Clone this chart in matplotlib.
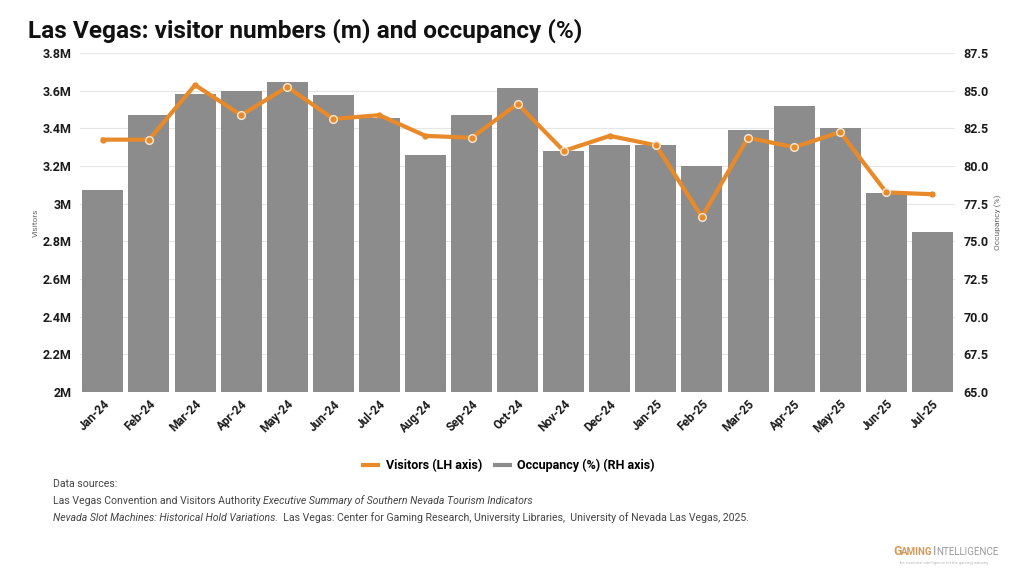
import numpy as np
import matplotlib.pyplot as plt
from matplotlib.lines import Line2D
from matplotlib.ticker import FuncFormatter, MultipleLocator

plt.rcParams.update({
    'font.family': ['Roboto', 'DejaVu Sans'],
    'figure.facecolor': 'white',
})

# Data
months = ['Jan-24', 'Feb-24', 'Mar-24', 'Apr-24', 'May-24', 'Jun-24', 'Jul-24',
          'Aug-24', 'Sep-24', 'Oct-24', 'Nov-24', 'Dec-24', 'Jan-25', 'Feb-25',
          'Mar-25', 'Apr-25', 'May-25', 'Jun-25', 'Jul-25']
visitors_m = [3.34, 3.34, 3.63, 3.47, 3.62, 3.45, 3.47, 3.36, 3.35, 3.53,
              3.28, 3.36, 3.31, 2.93, 3.35, 3.30, 3.38, 3.06, 3.05]
occupancy = [78.4, 83.4, 84.8, 85.0, 85.6, 84.7, 83.2, 80.7, 83.4, 85.2,
             81.0, 81.4, 81.4, 80.0, 82.4, 84.0, 82.5, 78.2, 75.6]
# points drawn with a white-ringed marker in the original
ringed = [1, 3, 4, 5, 8, 9, 10, 12, 13, 14, 15, 16, 17]

ORANGE = '#e8892a'
GREY = '#8c8c8c'
TXT = '#1a1a1a'

fig = plt.figure(figsize=(10.24, 5.76), dpi=100)
ax = fig.add_axes([0.078, 0.3194, 0.855, 0.5886])   # bars, right-hand scale
ax2 = ax.twinx()                                     # line, left-hand scale

x = np.arange(len(months))

# bars: occupancy (RH axis)
ax.bar(x, occupancy, width=0.89, color=GREY, zorder=2)
ax.set_ylim(65, 87.5)
ax.yaxis.set_major_locator(MultipleLocator(2.5))
ax.yaxis.set_major_formatter(FuncFormatter(lambda v, p: f'{v:.1f}'))
ax.yaxis.tick_right()
ax.yaxis.set_label_position('right')
ax.grid(axis='y', color='#e6e6e6', lw=0.8, zorder=0)
ax.set_axisbelow(True)
ax.set_xlim(-0.5, len(months) - 0.5)
ax.set_xticks(x)
ax.set_xticklabels(months, rotation=45, ha='right', rotation_mode='anchor',
                   fontsize=8.5, fontweight='bold', color=TXT)
ax.set_ylabel('Occupancy (%)', fontsize=6, color='#666666', labelpad=4)

# line: visitors (LH axis)
ax2.plot(x, visitors_m, color=ORANGE, lw=3, zorder=3,
         marker='o', ms=3.5, mec=ORANGE, mfc=ORANGE)
ax2.plot(x[ringed], np.array(visitors_m)[ringed], ls='none', marker='o',
         ms=5.5, mfc=ORANGE, mec='#f6e3cf', mew=1.1, zorder=4)
ax2.set_ylim(2.0, 3.8)
ax2.yaxis.set_major_locator(MultipleLocator(0.2))
ax2.yaxis.set_major_formatter(FuncFormatter(lambda v, p: f'{v:g}M'))
ax2.yaxis.tick_left()
ax2.yaxis.set_label_position('left')
ax2.set_ylabel('Visitors', fontsize=6, color='#666666', labelpad=3)

for a in (ax, ax2):
    for s in a.spines.values():
        s.set_visible(False)
    a.tick_params(length=0, pad=6)
    for lbl in a.get_yticklabels():
        lbl.set_fontsize(9)
        lbl.set_fontweight('bold')
        lbl.set_color(TXT)
ax.tick_params(axis='x', pad=4)

# title
fig.text(0.027, 0.947, 'Las Vegas: visitor numbers (m) and occupancy (%)',
         fontsize=17.6, fontweight='bold', color='#111111', va='center')

# legend
handles = [Line2D([], [], color=ORANGE, lw=3),
           Line2D([], [], color=GREY, lw=3)]
fig.legend(handles, ['Visitors (LH axis)', 'Occupancy (%) (RH axis)'],
           loc='center', bbox_to_anchor=(0.497, 0.192), ncol=2, frameon=False,
           prop={'weight': 'bold', 'size': 9}, handlelength=1.2,
           columnspacing=1.0, handletextpad=0.6)


def runs(x0, y, pieces, size=7.6, color='#444444'):
    # draw text pieces one after another on a single line
    r = fig.canvas.get_renderer()
    xpos = x0
    for txt, kw in pieces:
        t = fig.text(xpos, y, txt, fontsize=kw.get('size', size),
                     style=kw.get('style', 'normal'),
                     weight=kw.get('weight', 'normal'),
                     color=kw.get('color', color), va='baseline')
        bb = t.get_window_extent(renderer=r)
        xpos += bb.width / fig.bbox.width


runs(0.052, 0.155, [('Data sources:', {})])
runs(0.052, 0.125, [('Las Vegas Convention and Visitors Authority ', {}),
                    ('Executive Summary of Southern Nevada Tourism Indicators',
                     {'style': 'italic'})])
runs(0.052, 0.095, [('Nevada Slot Machines: Historical Hold Variations.',
                     {'style': 'italic'}),
                    ('  Las Vegas: Center for Gaming Research, University Libraries,  '
                     'University of Nevada Las Vegas, 2025.', {})])

# logo
runs(0.872, 0.036, [('G', {'size': 9, 'weight': 'bold', 'color': '#d49a5c'}),
                    ('AMING', {'size': 7, 'weight': 'bold', 'color': '#d49a5c'}),
                    ('I', {'size': 9, 'color': '#9a9a9a'}),
                    ('NTELLIGENCE', {'size': 7, 'color': '#9a9a9a'})])
fig.text(0.878, 0.022, 'the essential intelligence for the gaming industry',
         fontsize=3, color='#bbbbbb', va='center')

fig.savefig('out.png', dpi=100)
